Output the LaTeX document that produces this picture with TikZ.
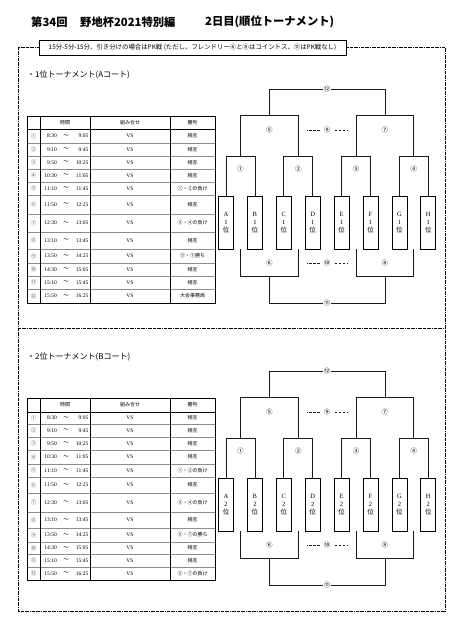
\documentclass[tikz,border=0pt]{standalone}
\usepackage{fontspec}
\setmainfont{Liberation Serif}
\newfontfamily\jp{Noto Sans CJK JP}
\usetikzlibrary{calc}

\newcommand\bracketset[2]{%
  \foreach \L/\xx in {A/226,B/254.9,C/283.8,D/312.7,E/341.6,F/370.5,G/399.4,H/428.3}{%
    \node[team] (#1\L) at (\xx,222.5) {\L\\#2\\{\jp 位}};%
  }%
  \draw[br] (#1A.north) -- ++(0,-39) -| (#1B.north);
  \draw[br] (#1C.north) -- ++(0,-39) -| (#1D.north);
  \draw[br] (#1E.north) -- ++(0,-39) -| (#1F.north);
  \draw[br] (#1G.north) -- ++(0,-39) -| (#1H.north);
  \coordinate (#1j1) at (240.45,157);
  \coordinate (#1j2) at (298.25,157);
  \coordinate (#1j3) at (356.05,157);
  \coordinate (#1j4) at (413.85,157);
  \draw[br] (#1j1) -- ++(0,-42) -| (#1j2);
  \draw[br] (#1j3) -- ++(0,-42) -| (#1j4);
  \coordinate (#1s1) at (269.35,115);
  \coordinate (#1s2) at (384.95,115);
  \draw[br] (#1s1) -- ++(0,-26) -| (#1s2);
  \node[lbl] (#1m12) at (327.15,89) {⑫};
  \node[lbl] (#1m1) at (240.45,169) {①};
  \node[lbl] (#1m2) at (298.25,169) {②};
  \node[lbl] (#1m3) at (356.05,169) {③};
  \node[lbl] (#1m4) at (413.85,169) {④};
  \node[lbl] (#1m5) at (269.35,130) {⑤};
  \node[lbl] (#1m7) at (384.95,130) {⑦};
  \node[lbl] (#1m9) at (327.15,130) {⑨};
  \draw[dsh] ([xshift=-3pt]#1m9.west) -- ++(-13,0);
  \draw[dsh] ([xshift=3pt]#1m9.east) -- ++(13,0);
  \coordinate (#1k1) at (240.45,249);
  \coordinate (#1k2) at (298.25,249);
  \coordinate (#1k3) at (356.05,249);
  \coordinate (#1k4) at (413.85,249);
  \draw[br] (#1k1) -- ++(0,27) -| (#1k2);
  \draw[br] (#1k3) -- ++(0,27) -| (#1k4);
  \coordinate (#1t1) at (269.35,276);
  \coordinate (#1t2) at (384.95,276);
  \draw[br] (#1t1) -- ++(0,27) -| (#1t2);
  \node[lbl] (#1m6) at (269.35,263) {⑥};
  \node[lbl] (#1m8) at (384.95,263) {⑧};
  \node[lbl] (#1m10) at (327.15,263) {⑩};
  \draw[dsh] ([xshift=-3pt]#1m10.west) -- ++(-13,0);
  \draw[dsh] ([xshift=3pt]#1m10.east) -- ++(13,0);
  \node[lbl] (#1m11) at (327.15,303) {⑪};
}

% #1 prefix, #2 top, #3 header bottom, #4 bottom, #5 inner row lines, #6 rows
\newcommand\ttable[6]{%
  \draw[rline] \foreach \yy in {#5}{(27,\yy) -- (215,\yy)};
  \draw[tline] (27,#3) -- (215,#3);
  \draw[tline] (40,#2) -- (40,#4) (90,#2) -- (90,#4) (170,#2) -- (170,#4);
  \draw[tline] (27,#2) rectangle (215,#4);
  \node[hd] (#1h1) at (65,{(#2+#3)/2}) {時間};
  \node[hd] (#1h2) at (130,{(#2+#3)/2}) {組み合せ};
  \node[hd] (#1h3) at (192.5,{(#2+#3)/2}) {審判};
  \foreach \yy/\rn/\st/\en/\ja [count=\i] in {#6}{%
    \node[num] (#1n\i) at (33.5,\yy) {\rn};
    \node[tm, anchor=east] (#1s\i) at (57,\yy) {\st};
    \node[tm] (#1w\i) at (66,\yy) {{\jp ～}};
    \node[tm, anchor=east] (#1e\i) at (88.5,\yy) {\en};
    \node[tm] (#1v\i) at (130,\yy) {VS};
    \node[hd] (#1j\i) at (192.5,\yy) {\ja};
  }%
}

\begin{document}
\begin{tikzpicture}[x=1pt,y=-1pt,
  frame/.style={line width=0.6pt, dash pattern=on 3pt off 0.8pt on 0.8pt off 0.8pt},
  tline/.style={line width=0.8pt, black},
  rline/.style={line width=0.5pt, black!45},
  br/.style={line width=0.75pt, black!90},
  dsh/.style={line width=0.75pt, black!90, dash pattern=on 2.5pt off 1.5pt},
  team/.style={draw, line width=0.8pt, minimum width=15pt, minimum height=53pt,
    inner sep=0pt, align=center, font=\fontsize{6.5}{8}\selectfont, fill=white},
  lbl/.style={font=\fontsize{6.5}{7}\selectfont\jp, inner sep=1pt, fill=white},
  hd/.style={font=\fontsize{5}{6}\selectfont\jp, inner sep=0pt},
  num/.style={font=\fontsize{5.5}{6}\selectfont\jp, inner sep=0pt, text=black!70},
  tm/.style={font=\fontsize{5.5}{6}\selectfont, inner sep=0pt},
  ttl/.style={font=\fontsize{11.3}{13}\selectfont\jp\bfseries, inner sep=0pt, anchor=west},
  sec/.style={font=\fontsize{8}{9}\selectfont\jp, inner sep=0pt, anchor=west}
]
\fill[white] (0,0) rectangle (458,640);
\useasboundingbox (0,0) rectangle (458,640);

% title
\node[ttl] (t1) at (31,22) {第34回};
\node[ttl] (t2) at (80,22) {野地杯2021特別編};
\node[ttl] (t3) at (205,22) {2日目(順位トーナメント)};

% frame
\draw[frame] (18,47) rectangle (445,611);
\draw[frame] (18,328) -- (445,328);
\node[draw, line width=0.8pt, fill=white, minimum width=307pt, minimum height=15pt,
  inner sep=0pt, font=\fontsize{6.4}{7}\selectfont\jp] (hdr) at (192.5,47.5)
  {15分-5分-15分、引き分けの場合はPK戦 (ただし、フレンドリー⑥と⑧はコイントス、⑪はPK戦なし)};

% section A
\node[sec] (secA) at (27,75) {・1位トーナメント(Aコート)};
\ttable{ta}{116}{129}{303}{143,156,169,182,195,214,232,249,263,276,289}{%
  136/①/8:30/9:05/相互,
  149.5/②/9:10/9:45/相互,
  162.5/③/9:50/10:25/相互,
  175.5/④/10:30/11:05/相互,
  188.5/⑤/11:10/11:45/①・②の負け,
  204.5/⑥/11:50/12:25/相互,
  223/⑦/12:30/13:05/③・④の負け,
  240.5/⑧/13:10/13:45/相互,
  256/⑨/13:50/14:25/⑤・⑦勝ち,
  269.5/⑩/14:30/15:05/相互,
  282.5/⑪/15:10/15:45/相互,
  296/⑫/15:50/16:25/大会事務局}
\bracketset{a}{1}

% section B
\node[sec] (secB) at (27,357) {・2位トーナメント(Bコート)};
\ttable{tb}{398}{412}{580}{424,437,450,464,477,493,512,528,542,554,567}{%
  418/①/8:30/9:05/相互,
  430.5/②/9:10/9:45/相互,
  443.5/③/9:50/10:25/相互,
  457/④/10:30/11:05/相互,
  470.5/⑤/11:10/11:45/①・②の負け,
  485/⑥/11:50/12:25/相互,
  502.5/⑦/12:30/13:05/③・④の負け,
  520/⑧/13:10/13:45/相互,
  535/⑨/13:50/14:25/⑤・⑦の勝ち,
  548/⑩/14:30/15:05/相互,
  560.5/⑪/15:10/15:45/相互,
  573.5/⑫/15:50/16:25/⑤・⑦の負け}
\begin{scope}[shift={(0,282)}]
\bracketset{b}{2}
\end{scope}
\end{tikzpicture}
\end{document}
